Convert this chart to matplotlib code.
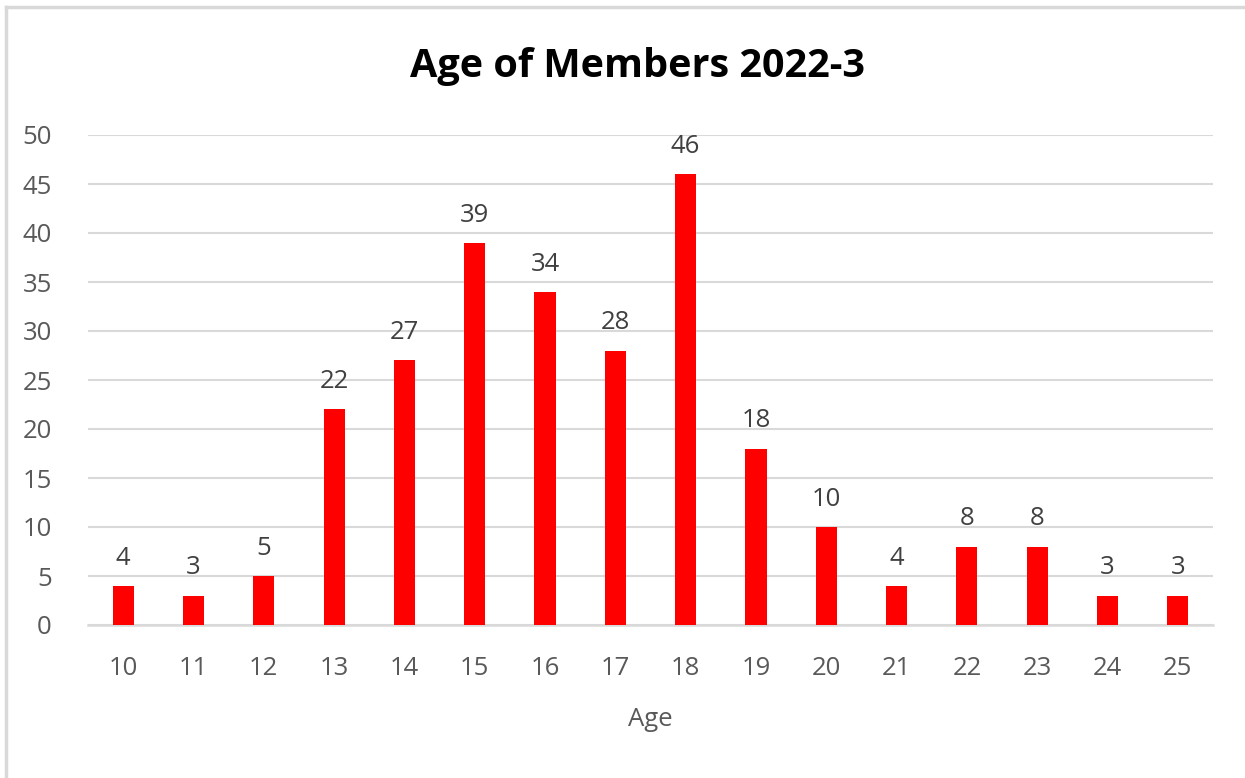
import matplotlib
matplotlib.use('Agg')
import matplotlib.pyplot as plt
from matplotlib.lines import Line2D

ages = ['10', '11', '12', '13', '14', '15', '16', '17', '18', '19', '20', '21', '22', '23', '24', '25']
counts = [4, 3, 5, 22, 27, 39, 34, 28, 46, 18, 10, 4, 8, 8, 3, 3]

plt.rcParams['font.family'] = ['Open Sans', 'DejaVu Sans']

fig = plt.figure(figsize=(12.45, 7.78), dpi=100)
ax = fig.add_axes([88/1245, 1 - 625/778, (1213 - 88)/1245, (625 - 135)/778])

x = list(range(len(ages)))
bars = ax.bar(x, counts, width=0.3, color='#ff0000', zorder=3)

for xi, c in zip(x, counts):
    ax.annotate(str(c), (xi, c), xytext=(0, 11), textcoords='offset points',
                ha='center', va='bottom', fontsize=18.5, color='#404040')

ax.set_xlim(-0.5, len(ages) - 0.5)
ax.set_ylim(0, 50)
ax.set_yticks(range(0, 51, 5))
ax.set_xticks(x)
ax.set_xticklabels(ages)
ax.tick_params(axis='both', length=0, labelsize=18.5, labelcolor='#595959')
ax.tick_params(axis='x', pad=22)
ax.tick_params(axis='y', pad=26)
ax.grid(axis='y', color='#d9d9d9', linewidth=1.5, zorder=0)
for s in ['top', 'right', 'left']:
    ax.spines[s].set_visible(False)
ax.spines['bottom'].set_color('#d9d9d9')
ax.spines['bottom'].set_linewidth(1.8)

ax.set_xlabel('Age', fontsize=18.5, color='#595959', labelpad=19)
fig.text(638/1245, 1 - 67/778, 'Age of Members 2022-3', ha='center', va='center',
         fontsize=28.5, fontweight='bold', color='black')

# chart frame (only left and top edges visible)
fig.add_artist(Line2D([6/1245, 6/1245], [0, 1 - 7/778], transform=fig.transFigure, color='#d9d9d9', linewidth=2.5))
fig.add_artist(Line2D([6/1245, 1], [1 - 7/778, 1 - 7/778], transform=fig.transFigure, color='#d9d9d9', linewidth=2.5))

fig.savefig('out.png', dpi=100)
